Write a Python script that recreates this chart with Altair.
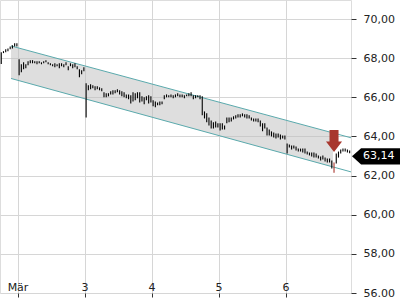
import altair as alt
import pandas as pd

# ---------------- data ----------------
bars_per_day = 30
days = [1, 2, 3, 4, 5, 6]          # 2 = "Mär"
first_bar = [22, 0, 0, 0, 0, 0]

hi1 = [68.30, 68.36, 68.46, 68.50, 68.60, 68.66, 68.77, 68.77]
lo1 = [67.70, 68.26, 68.30, 68.36, 68.46, 68.50, 68.60, 68.60]

hi2 = [67.95, 67.69, 67.79, 67.69, 67.85, 67.90, 67.90, 67.85, 67.85, 67.85,
       67.79, 67.85, 67.90, 67.79, 67.74, 67.69, 67.74, 67.69, 67.74, 67.74,
       67.69, 67.79, 67.59, 67.74, 67.69, 67.74, 67.59, 67.44, 67.38, 67.54]
lo2 = [67.13, 67.28, 67.44, 67.49, 67.64, 67.74, 67.74, 67.74, 67.69, 67.74,
       67.69, 67.74, 67.79, 67.69, 67.64, 67.59, 67.54, 67.59, 67.49, 67.59,
       67.54, 67.64, 67.38, 67.59, 67.49, 67.54, 67.44, 67.03, 67.18, 67.33]

hi3 = [66.72, 66.62, 66.67, 66.62, 66.56, 66.56, 66.51, 66.46, 66.26, 66.21,
       66.21, 66.31, 66.36, 66.36, 66.41, 66.36, 66.31, 66.26, 66.15, 66.15,
       66.10, 66.26, 66.21, 66.26, 66.26, 66.05, 66.00, 66.05, 66.10, 66.05]
lo3 = [64.97, 66.36, 66.41, 66.46, 66.36, 66.41, 66.36, 66.31, 66.00, 66.00,
       66.05, 66.15, 66.15, 66.21, 66.26, 66.15, 66.05, 66.00, 65.95, 65.90,
       65.69, 65.79, 65.85, 65.95, 65.74, 65.79, 65.64, 65.85, 65.69, 65.74]

hi4 = [65.85, 65.79, 65.74, 65.79, 65.79, 66.10, 66.15, 66.10, 66.15, 66.10,
       66.15, 66.21, 66.15, 66.15, 66.10, 66.15, 66.21, 66.26, 66.10, 66.10,
       66.10, 66.10, 66.05, 65.28, 65.18, 64.97, 64.82, 64.72, 64.77, 64.67]
lo4 = [65.54, 65.49, 65.59, 65.59, 65.64, 65.90, 66.00, 66.00, 66.00, 65.95,
       66.00, 66.05, 66.00, 66.00, 65.95, 66.05, 66.05, 66.05, 65.90, 65.95,
       66.00, 65.90, 65.08, 64.92, 64.72, 64.56, 64.41, 64.41, 64.46, 64.46]

hi5 = [64.67, 64.67, 64.56, 64.97, 64.97, 64.97, 65.03, 65.08, 65.13, 65.13,
       65.18, 65.13, 65.13, 65.08, 64.97, 64.92, 64.92, 64.92, 64.82, 64.67,
       64.67, 64.46, 64.36, 64.26, 64.20, 64.15, 64.15, 64.10, 64.05, 64.05]
lo5 = [64.31, 64.36, 64.36, 64.67, 64.72, 64.77, 64.87, 64.92, 64.97, 64.97,
       65.03, 64.97, 64.92, 64.92, 64.82, 64.77, 64.77, 64.72, 64.51, 64.26,
       64.41, 64.05, 64.05, 64.00, 63.95, 63.90, 63.95, 63.85, 63.90, 63.85]

hi6 = [63.64, 63.59, 63.54, 63.54, 63.49, 63.38, 63.38, 63.38, 63.38, 63.23,
       63.18, 63.18, 63.18, 63.13, 63.03, 62.97, 63.03, 62.92, 62.87, 62.87,
       62.77, 62.67, 63.13, 63.23, 63.33, 63.38, 63.38, 63.33, 63.28]
lo6 = [63.13, 63.44, 63.33, 63.38, 63.28, 63.23, 63.23, 63.18, 63.13, 63.08,
       63.03, 62.97, 62.92, 62.92, 62.87, 62.77, 62.82, 62.72, 62.67, 62.67,
       62.36, 62.15, 62.62, 62.92, 63.13, 63.23, 63.23, 63.18, 63.14]

his = [hi1, hi2, hi3, hi4, hi5, hi6]
los = [lo1, lo2, lo3, lo4, lo5, lo6]

signal_day, signal_bar = 6, 21
signal_price = 63.77
last_price = 63.14
last_label = "63,14"

# trend channel (start / end points)
chan_t = [1.8955, 6.970]
chan_upper = [68.626, 63.933]
chan_lower = [66.964, 62.190]
fill_t = [1.8955, 6.701]
fill_upper = [68.626, 64.182]
fill_lower = [66.964, 62.443]

x_ticks = [2, 3, 4, 5, 6]
x_labels = ["Mär", "3", "4", "5\u200b", "6"]
y_ticks = [56, 58, 60, 62, 64, 66, 68, 70]
x_domain = [1.7313, 6.9701]
y_domain = [56, 70.974]

# ---------------- tables ----------------
rows = []
for d, start, h, l in zip(days, first_bar, his, los):
    for k, (a, b) in enumerate(zip(h, l)):
        i = start + k
        rows.append(dict(t=d + (i + 0.5) / bars_per_day, hi=a, lo=b,
                         sig="y" if (d == signal_day and i == signal_bar) else "n"))
bars = pd.DataFrame(rows)
chan = pd.DataFrame(dict(t=chan_t, up=chan_upper, low=chan_lower))
fill = pd.DataFrame(dict(t=fill_t, up=fill_upper, low=fill_lower))
sig_t = signal_day + (signal_bar + 0.5) / bars_per_day
sig = pd.DataFrame(dict(t=[sig_t], p=[signal_price]))
last = pd.DataFrame(dict(p=[last_price], txt=[last_label]))
xlab = pd.DataFrame(dict(day=x_ticks, name=x_labels))

W, H = 351, 293
xs = alt.Scale(domain=x_domain, nice=False, zero=False)
ys = alt.Scale(domain=y_domain, nice=False, zero=False)

x_axis = alt.Axis(values=x_ticks, grid=True, gridColor="#d6d6d6", domain=False,
                  tickSize=4, tickColor="#333", labels=False, title=None)
y_axis = alt.Axis(orient="right", values=y_ticks, grid=True, gridColor="#d6d6d6",
                  domain=False, tickSize=5, tickColor="#333", labelPadding=7,
                  labelOverlap=False, labelFlush=False,
                  labelExpr="datum.value == 56 ? '56.00' : replace(format(datum.value, '.2f'), '.', ',')",
                  title=None, labelFontSize=11, labelColor="#222")

X = alt.X("t:Q", scale=xs, axis=x_axis)

def Y(f):
    return alt.Y(f, scale=ys, axis=y_axis)

area = alt.Chart(fill).mark_area(color="#bdbdbd", opacity=0.5, clip=True).encode(
    x=X, y=Y("up:Q"), y2="low:Q")

up_line = alt.Chart(chan).mark_line(color="#5aa9ac", strokeWidth=1, clip=True).encode(
    x=X, y=Y("up:Q"))
low_line = alt.Chart(chan).mark_line(color="#5aa9ac", strokeWidth=1, clip=True).encode(
    x=X, y=Y("low:Q"))

price = alt.Chart(bars).mark_rule(strokeWidth=1.1, clip=True).encode(
    x=X,
    y=Y("lo:Q"),
    y2="hi:Q",
    color=alt.Color("sig:N", scale=alt.Scale(domain=["n", "y"], range=["#000000", "#a8342c"]),
                    legend=None))

arrow_path = "M-0.41,-1 L0.41,-1 L0.41,0.06 L0.73,0.06 L0,1 L-0.73,0.06 L-0.41,0.06 Z"
arrow = alt.Chart(sig).mark_point(shape=arrow_path, filled=True, fill="#a8372e",
                                  opacity=1, strokeWidth=0, size=484).encode(
    x=X, y=Y("p:Q"))

tag_path = "M-1,0 L-0.62,-0.34 L1,-0.34 L1,0.34 L-0.62,0.34 Z"
tag = alt.Chart(last).mark_point(shape=tag_path, filled=True, fill="#000000",
                                 opacity=1, strokeWidth=0, size=2304, yOffset=3).encode(
    x=alt.value(376), y=Y("p:Q"))
tag_text = alt.Chart(last).mark_text(align="left", baseline="middle", color="white",
                                     fontSize=11, yOffset=3).encode(
    x=alt.value(363), y=Y("p:Q"), text="txt:N")

xtext = alt.Chart(xlab).mark_text(align="center", baseline="alphabetic", fontSize=11,
                                  color="#222").encode(
    x=alt.X("day:Q", scale=xs, axis=x_axis), y=alt.value(291), text="name:N")

chart = alt.layer(area, up_line, low_line, price, arrow, xtext, tag, tag_text).properties(
    width=W, height=H, padding=0
).configure_view(strokeWidth=0).configure(font="DejaVu Sans")

chart.save("out.html", embed_options={"renderer": "svg", "actions": False})
